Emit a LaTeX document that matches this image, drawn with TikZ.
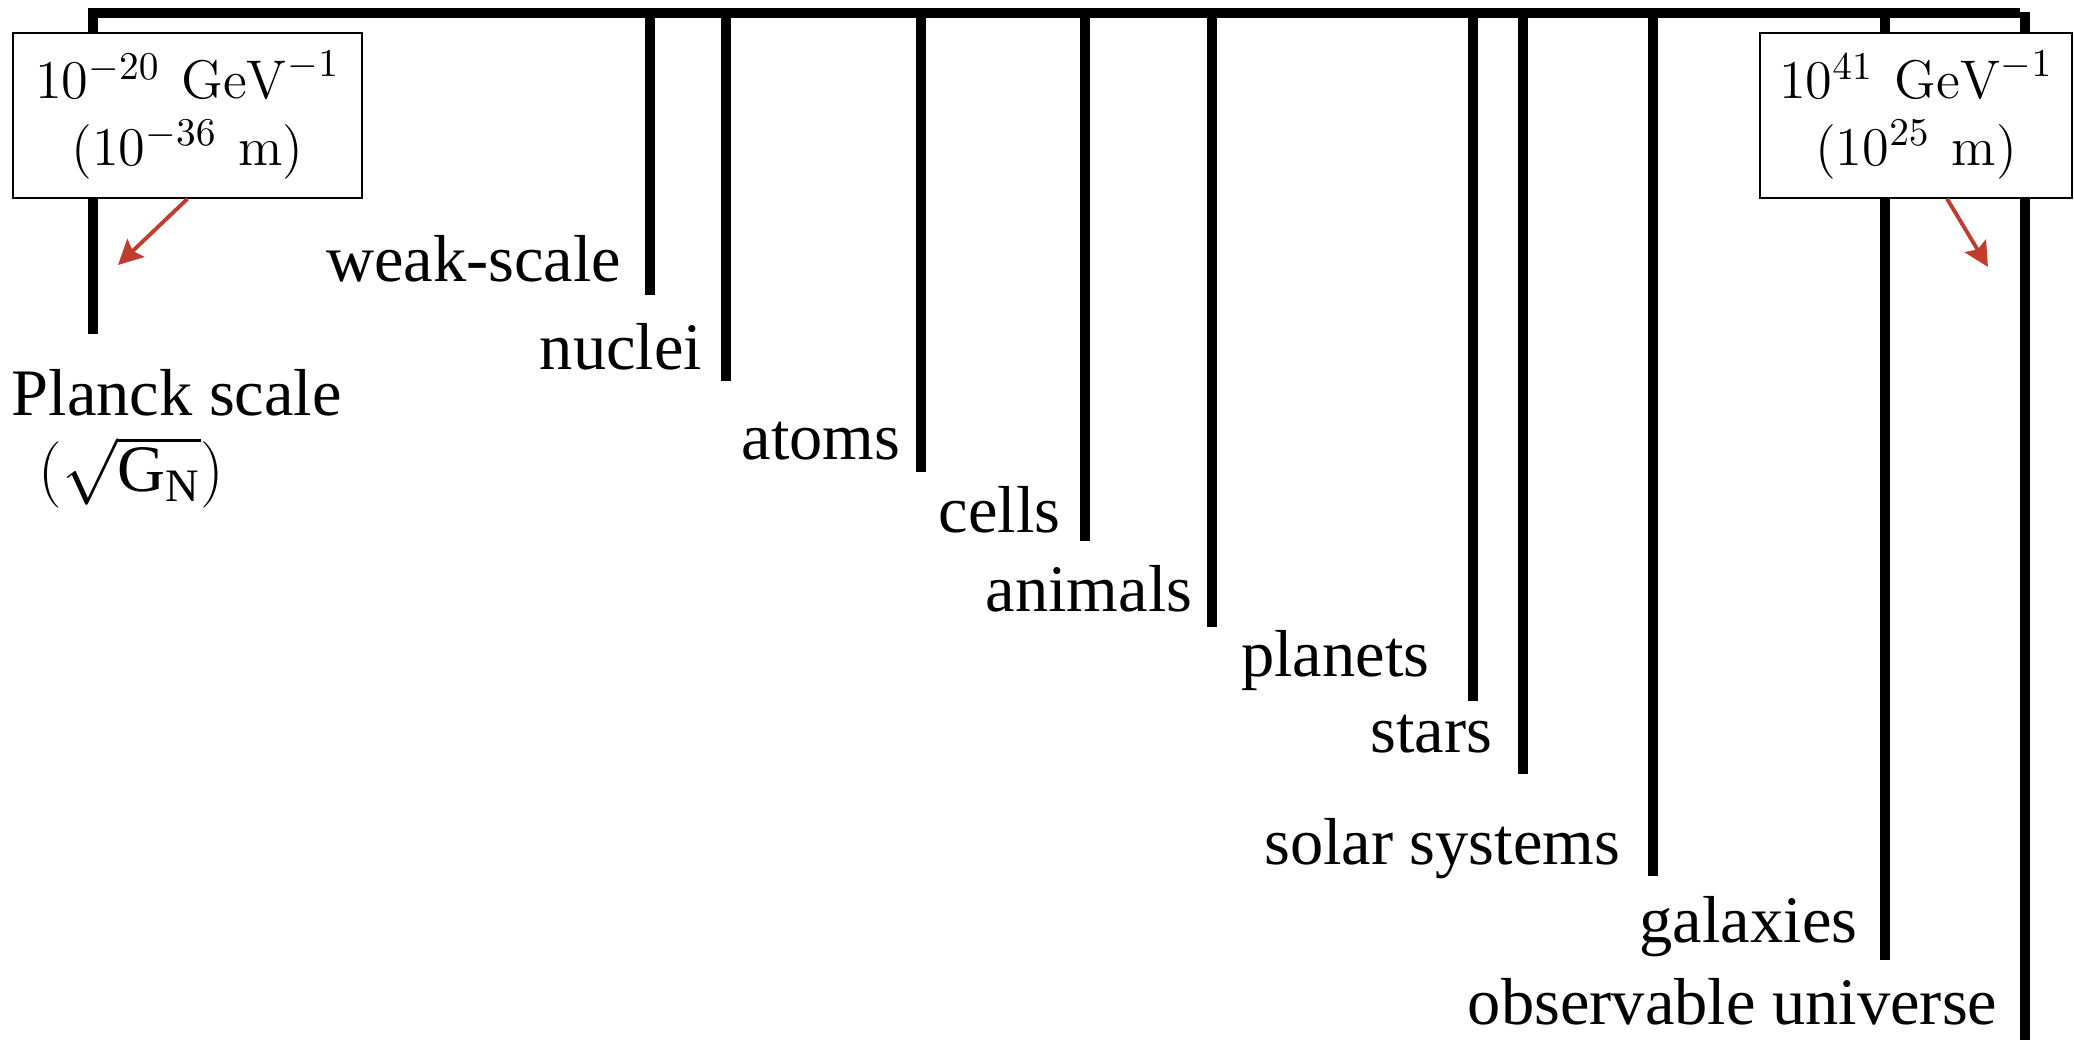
\RequirePackage{fix-cm}
\documentclass[tikz,border=0pt]{standalone}
\usepackage{amsmath}
\usepackage[no-math]{fontspec}
\setmainfont{Liberation Serif}
\usetikzlibrary{arrows.meta, positioning}

\DeclareMathSizes{15.5}{15.5}{11.2}{8}
\definecolor{arrowred}{RGB}{192,60,45}

\begin{document}
\begin{tikzpicture}[
    scaleline/.style={line width=2.8pt},
    lbl/.style={anchor=base east, inner sep=0pt, font=\fontsize{18.9}{22}\selectfont},
    unitbox/.style={draw, line width=0.45pt, fill=white, inner sep=0pt, align=center,
      minimum height=1.65cm, font=\fontsize{15.5}{19}\selectfont},
    redarrow/.style={arrowred, line width=1.1pt, -{Stealth[length=7pt, width=7pt, inset=1.2pt]}}
  ]
  \useasboundingbox (0,0) rectangle (20.74,-10.40);

  % top bar and one drop per scale
  \draw[scaleline] (0.88,-0.13) -- (20.20,-0.13);
  \draw[scaleline] (0.93,-0.13) -- (0.93,-3.34);
  \draw[scaleline] (6.50,-0.13) -- (6.50,-2.95);
  \draw[scaleline] (7.26,-0.13) -- (7.26,-3.81);
  \draw[scaleline] (9.21,-0.13) -- (9.21,-4.72);
  \draw[scaleline] (10.85,-0.13) -- (10.85,-5.41);
  \draw[scaleline] (12.12,-0.13) -- (12.12,-6.27);
  \draw[scaleline] (14.73,-0.13) -- (14.73,-7.01);
  \draw[scaleline] (15.23,-0.13) -- (15.23,-7.74);
  \draw[scaleline] (16.53,-0.13) -- (16.53,-8.76);
  \draw[scaleline] (18.85,-0.13) -- (18.85,-9.60);
  \draw[scaleline] (20.25,-0.12) -- (20.25,-10.40);

  % names of the scales
  \node[lbl, anchor=base west, align=left, font=\fontsize{18.9}{21.8}\selectfont] (planck) at (0.11,-4.92)
    {Planck scale\\\hspace*{0.27cm}$(\sqrt{\text{G}_{\text{N}}})$};
  \node[lbl] (weak) at (6.22,-2.82) {weak-scale};
  \node[lbl] (nuclei) at (7.03,-3.70) {nuclei};
  \node[lbl] (atoms) at (9.01,-4.60) {atoms};
  \node[lbl] (cells) at (10.61,-5.33) {cells};
  \node[lbl] (animals) at (11.93,-6.12) {animals};
  \node[lbl] (planets) at (14.30,-6.77) {planets};
  \node[lbl] (stars) at (14.93,-7.53) {stars};
  \node[lbl] (solar) at (16.21,-8.65) {solar systems};
  \node[lbl] (galaxies) at (18.58,-9.43) {galaxies};
  \node[lbl] (universe) at (19.98,-10.25) {observable universe};

  % the two ends, in GeV^-1 and m
  \node[unitbox, minimum width=3.49cm] (planckbox) at (1.875,-1.155)
    {$10^{-20}\mskip7mu\mathrm{GeV}^{-1}$\\$(10^{-36}\mskip7mu\mathrm{m})$};
  \node[unitbox, minimum width=3.12cm] (hubblebox) at (19.16,-1.155)
    {$10^{41}\mskip7mu\mathrm{GeV}^{-1}$\\$(10^{25}\mskip7mu\mathrm{m})$};
  \coordinate (plancktip) at (1.18,-2.65);
  \coordinate (hubbletip) at (19.88,-2.67);
  \draw[redarrow] (planckbox.south) -- (plancktip);
  \draw[redarrow] ([xshift=0.31cm]hubblebox.south) -- (hubbletip);
\end{tikzpicture}
\end{document}
